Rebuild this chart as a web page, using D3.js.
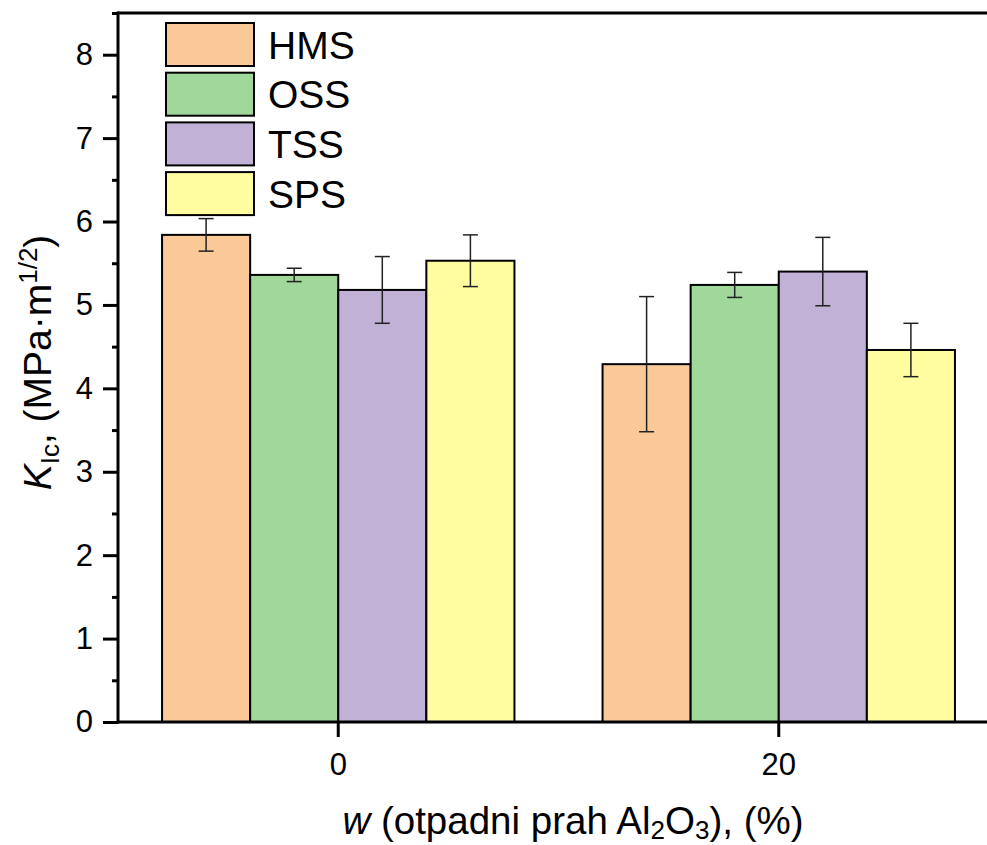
<!DOCTYPE html>
<html><head><meta charset="utf-8">
<script src="https://cdn.jsdelivr.net/npm/d3@7"></script>
<style>html,body{margin:0;padding:0;background:#fff;overflow:hidden}svg{display:block}</style>
</head><body>
<script>
const groups = ["0", "20"];
const series = ["HMS", "OSS", "TSS", "SPS"];
const colors = ["#FBC898", "#A0D89C", "#C2B1D6", "#FFFDA0"];
const values = {
  HMS: [5.84, 4.29],
  OSS: [5.36, 5.24],
  TSS: [5.18, 5.40],
  SPS: [5.53, 4.46]
};
const errors = {
  HMS: [0.195, 0.81],
  OSS: [0.08, 0.15],
  TSS: [0.40, 0.41],
  SPS: [0.31, 0.32]
};
const yTicks = [0, 1, 2, 3, 4, 5, 6, 7, 8];
const yMinor = [0.5, 1.5, 2.5, 3.5, 4.5, 5.5, 6.5, 7.5, 8.5];

const W = 987, H = 845;
const L = 118, R = 999, T = 13, B = 722;
const FONT = "Liberation Sans, Arial, sans-serif";

const svg = d3.select("body").append("svg").attr("width", W).attr("height", H)
  .style("font-family", FONT);

const x = d3.scaleBand().domain(groups).range([L, R]).paddingInner(0.2).paddingOuter(0.1);
const xs = d3.scaleBand().domain(series).range([0, x.bandwidth()]).padding(0);
const y = d3.scaleLinear().domain([0, 8.5]).range([B, T]);

// bars
const data = [];
series.forEach((s, si) => groups.forEach((g, gi) => data.push({s, si, g, v: values[s][gi], e: errors[s][gi]})));

svg.append("g").selectAll("rect").data(data).join("rect")
  .attr("x", d => x(d.g) + xs(d.s))
  .attr("y", d => y(d.v))
  .attr("width", xs.bandwidth())
  .attr("height", d => y(0) - y(d.v))
  .attr("fill", d => colors[d.si])
  .attr("stroke", "#000").attr("stroke-width", 2);

// error bars
const eb = svg.append("g").attr("stroke", "#222").attr("stroke-width", 1.5);
data.forEach(d => {
  const cx = x(d.g) + xs(d.s) + xs.bandwidth() / 2;
  eb.append("line").attr("x1", cx).attr("x2", cx).attr("y1", y(d.v + d.e)).attr("y2", y(d.v - d.e));
  [d.v + d.e, d.v - d.e].forEach(v => eb.append("line")
    .attr("x1", cx - 7.5).attr("x2", cx + 7.5).attr("y1", y(v)).attr("y2", y(v)));
});

// y axis
const yAxis = d3.axisLeft(y).tickValues(yTicks).tickSize(15).tickPadding(10).tickFormat(d3.format("d"));
const ga = svg.append("g").attr("transform", `translate(${L},0)`).call(yAxis);
ga.select(".domain").remove();
ga.selectAll(".tick line").attr("stroke", "#000").attr("stroke-width", 3);
ga.selectAll(".tick text").attr("font-size", 31).attr("font-family", FONT).attr("fill", "#000");
const gm = svg.append("g").attr("transform", `translate(${L},0)`)
  .call(d3.axisLeft(y).tickValues(yMinor).tickSize(6).tickFormat(""));
gm.select(".domain").remove();
gm.selectAll(".tick line").attr("stroke", "#000").attr("stroke-width", 3);

// x axis
const gx = svg.append("g").attr("transform", `translate(0,${B})`)
  .call(d3.axisBottom(x).tickSize(15).tickPadding(10).tickSizeOuter(0));
gx.select(".domain").remove();
gx.selectAll(".tick line").attr("stroke", "#000").attr("stroke-width", 3);
gx.selectAll(".tick text").attr("font-size", 31).attr("font-family", FONT).attr("fill", "#000").attr("dy", "0.9em");

// frame lines
svg.append("line").attr("x1", L).attr("x2", R).attr("y1", B).attr("y2", B).attr("stroke", "#000").attr("stroke-width", 3);
svg.append("line").attr("x1", L).attr("x2", R).attr("y1", T).attr("y2", T).attr("stroke", "#000").attr("stroke-width", 3);
svg.append("line").attr("x1", L).attr("x2", L).attr("y1", T - 1.5).attr("y2", B + 1.5).attr("stroke", "#000").attr("stroke-width", 3);

// legend
const lg = svg.append("g");
series.forEach((s, i) => {
  const top = 23 + i * 49.7;
  lg.append("rect").attr("x", 166).attr("y", top).attr("width", 88).attr("height", 43)
    .attr("fill", colors[i]).attr("stroke", "#000").attr("stroke-width", 2);
  lg.append("text").attr("x", 268).attr("y", top + 21.5).attr("dy", "0.36em")
    .attr("font-size", 39).text(s);
});

// x title
const xt = svg.append("text").attr("x", 573).attr("y", 834).attr("text-anchor", "middle").attr("font-size", 38.5);
xt.append("tspan").attr("font-style", "italic").text("w");
xt.append("tspan").text(" (otpadni prah Al");
xt.append("tspan").attr("font-size", 26).attr("dy", 5).text("2");
xt.append("tspan").attr("dy", -5).text("O");
xt.append("tspan").attr("font-size", 26).attr("dy", 5).text("3");
xt.append("tspan").attr("dy", -5).text("), (%)");

// y title
const yt = svg.append("text").attr("transform", `translate(51,${(T + B) / 2 - 5}) rotate(-90)`)
  .attr("text-anchor", "middle").attr("font-size", 39);
yt.append("tspan").attr("font-style", "italic").text("K");
yt.append("tspan").attr("font-size", 26).attr("dy", 8).text("Ic");
yt.append("tspan").attr("dy", -8).text(", (MPa·m");
yt.append("tspan").attr("font-size", 26).attr("dy", -14).text("1/2");
yt.append("tspan").attr("dy", 14).text(")");
</script>
</body></html>
